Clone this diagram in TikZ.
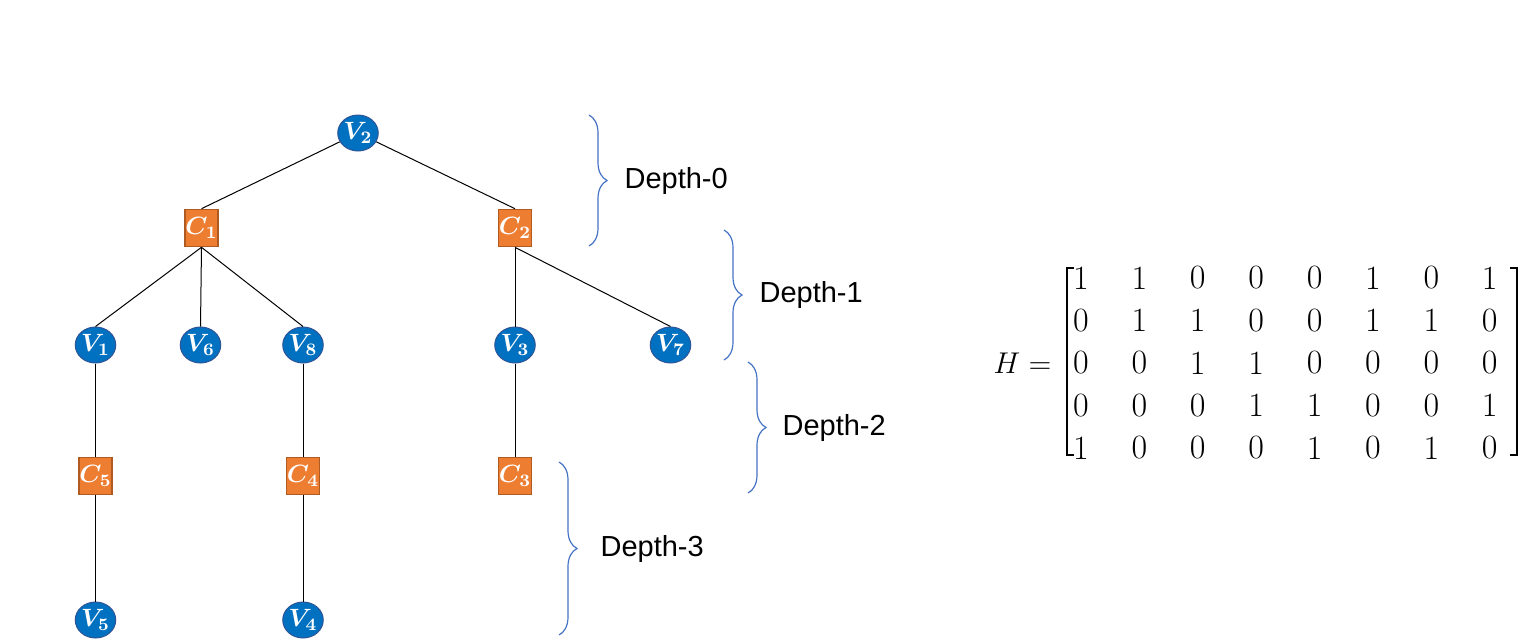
\documentclass[tikz,border=0pt]{standalone}
\usepackage{amsmath}
\usepackage{fix-cm}
\usepackage[no-math]{fontspec}
\usepackage{tikz}
\usetikzlibrary{shapes,arrows,positioning,matrix,decorations.pathreplacing}
\newfontfamily\depthfont{Liberation Sans}
\definecolor{varblue}{RGB}{0, 112, 192}
\definecolor{varborder}{RGB}{47, 85, 151}
\definecolor{checkorange}{RGB}{237, 125, 49}
\definecolor{checkborder}{RGB}{174, 90, 33}
\definecolor{braceblue}{RGB}{68, 114, 196}

\begin{document}
\begin{tikzpicture}[
    x=0.5pt, y=-0.5pt,
    every node/.style={align=center},
    vnode/.style={ellipse, minimum width=16.5pt, minimum height=18pt, inner sep=0pt, draw=varborder, line width=0.5pt, fill=varblue, text=white, font=\fontsize{12.5}{14}\selectfont\boldmath},
    cnode/.style={rectangle, minimum width=16.5pt, minimum height=18.5pt, inner sep=0pt, draw=checkborder, line width=0.8pt, fill=checkorange, text=white, font=\fontsize{12.5}{14}\selectfont\boldmath},
    edge/.style={line width=0.5pt, black},
    depthbrace/.style={decorate, decoration={brace, amplitude=9pt}, draw=braceblue, line width=0.6pt},
    depthlabel/.style={inner sep=0pt, font=\depthfont\fontsize{14.5}{17}\selectfont},
    hbracket/.style={line width=1.2pt, black}
]
\useasboundingbox (0,0) rectangle (1539,639);

% Tanner tree rooted at V2
\node[vnode] (v2) at (358,133) {$V_2$};
\node[cnode] (c1) at (201.5,228) {$C_1$};
\node[cnode] (c2) at (515,228) {$C_2$};
\node[vnode] (v1) at (95.5,345) {$V_1$};
\node[vnode] (v6) at (200.5,345) {$V_6$};
\node[vnode] (v8) at (303,345) {$V_8$};
\node[vnode] (v3) at (515,345) {$V_3$};
\node[vnode] (v7) at (670.5,345) {$V_7$};
\node[cnode] (c5) at (95.5,476) {$C_5$};
\node[cnode] (c4) at (303,476) {$C_4$};
\node[cnode] (c3) at (515,476) {$C_3$};
\node[vnode] (v5) at (95.5,620) {$V_5$};
\node[vnode] (v4) at (303,620) {$V_4$};

% Edges
\draw[edge] (v2) -- (c1.north);
\draw[edge] (v2) -- (c2.north);
\draw[edge] (c1.south) -- (v1.north);
\draw[edge] (c1.south) -- (v6.north);
\draw[edge] (c1.south) -- (v8.north);
\draw[edge] (c2.south) -- (v3.north);
\draw[edge] (c2.south) -- (v7.north);
\draw[edge] (v1) -- (c5);
\draw[edge] (v8) -- (c4);
\draw[edge] (v3) -- (c3);
\draw[edge] (c5) -- (v5);
\draw[edge] (c4) -- (v4);

% Depth braces
\draw[depthbrace] (589,115) -- (589,246) node[midway, depthlabel, right=17.5pt] (d0) {Depth-0};
\draw[depthbrace] (724,230) -- (724,360) node[midway, depthlabel, right=17.5pt] (d1) {Depth-1};
\draw[depthbrace] (748,362) -- (748,493) node[midway, depthlabel, right=17pt] (d2) {Depth-2};
\draw[depthbrace] (559,462) -- (559,635) node[midway, depthlabel, right=20.5pt] (d3) {Depth-3};

% Parity-check matrix
\matrix (hmat) [matrix of math nodes, inner sep=0pt, outer sep=0pt,
    nodes={minimum width=29.2pt, minimum height=21.25pt, inner sep=0pt, anchor=center, font=\fontsize{17}{20}\selectfont},
    column sep=0pt, row sep=0pt] at (1290.5,363) {
1 & 1 & 0 & 0 & 0 & 1 & 0 & 1 \\
0 & 1 & 1 & 0 & 0 & 1 & 1 & 0 \\
0 & 0 & 1 & 1 & 0 & 0 & 0 & 0 \\
0 & 0 & 0 & 1 & 1 & 0 & 0 & 1 \\
1 & 0 & 0 & 0 & 1 & 0 & 1 & 0 \\
};
\node[inner sep=0pt, font=\fontsize{15}{18}\selectfont, left=2.5pt of hmat] (hlabel) {$H=$};
\draw[hbracket] ([xshift=8.5pt, yshift=-5.5pt]hmat.north west) -- ++(-3.5pt,0) |- ([xshift=8.5pt, yshift=7pt]hmat.south west);
\draw[hbracket] ([xshift=-7pt, yshift=-5.5pt]hmat.north east) -- ++(3.5pt,0) |- ([xshift=-7pt, yshift=7pt]hmat.south east);

\end{tikzpicture}
\end{document}
